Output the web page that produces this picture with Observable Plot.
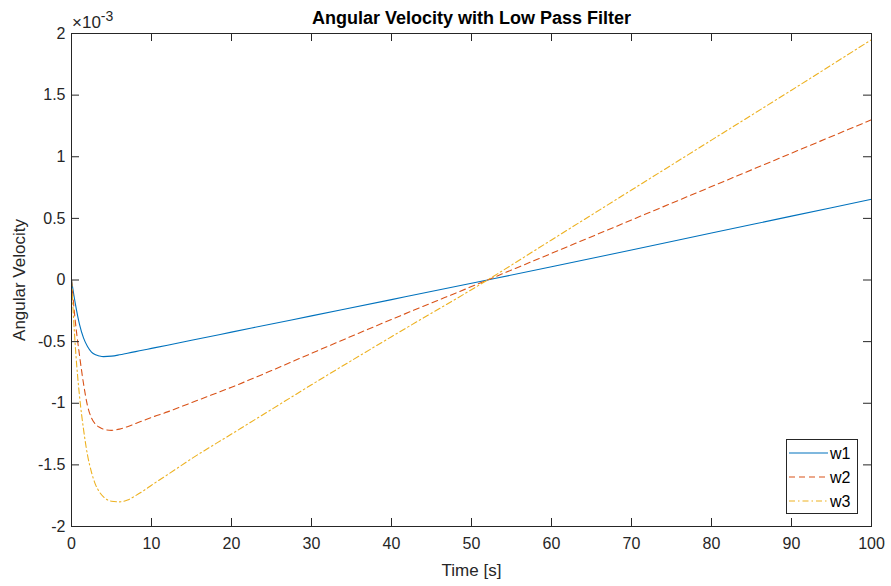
<!DOCTYPE html>
<html>
<head>
<meta charset="utf-8">
<script src="https://cdn.jsdelivr.net/npm/d3@7"></script>
<script src="https://cdn.jsdelivr.net/npm/@observablehq/plot@0.6"></script>
<style>
  html, body { margin: 0; padding: 0; background: #fff; }
  #wrap { position: relative; width: 891px; height: 586px; }
  #legend { position: absolute; left: 786px; top: 439px; }
</style>
</head>
<body>
<div id="wrap"></div>
<script>
// Time samples [s]
const time = [0, 0.5, 1, 1.5, 2, 2.5, 3, 3.5, 4, 5, 6, 7, 8, 9, 10, 12, 15, 20, 25, 30, 40, 52, 60, 70, 80, 90, 100];
// Angular velocity values in units of 1e-3
const w1 = [0, -0.2, -0.36, -0.47, -0.54, -0.585, -0.607, -0.617, -0.622, -0.618, -0.607, -0.594, -0.581, -0.568, -0.555, -0.529, -0.489, -0.423, -0.357, -0.291, -0.159, 0, 0.107, 0.244, 0.381, 0.518, 0.655];
const w2 = [0, -0.35, -0.61, -0.84, -1.02, -1.12, -1.17, -1.195, -1.21, -1.22, -1.21, -1.19, -1.165, -1.14, -1.115, -1.07, -0.995, -0.87, -0.735, -0.595, -0.32, 0, 0.216, 0.487, 0.758, 1.029, 1.30];
const w3 = [0, -0.56, -0.94, -1.21, -1.42, -1.56, -1.66, -1.72, -1.76, -1.795, -1.80, -1.785, -1.75, -1.71, -1.665, -1.58, -1.45, -1.25, -1.05, -0.85, -0.46, 0, 0.325, 0.73, 1.135, 1.54, 1.95];
const seriesNames = ["w1", "w2", "w3"];
const xTicks = [0, 10, 20, 30, 40, 50, 60, 70, 80, 90, 100];
const yTicks = [-2, -1.5, -1, -0.5, 0, 0.5, 1, 1.5, 2];
const titleText = "Angular Velocity with Low Pass Filter";
const xLabel = "Time [s]";
const yLabel = "Angular Velocity";

const colors = ["#0072BD", "#D95319", "#EDB120"];
const dashes = [null, "6,4", "6,3,1.5,3"];
const seriesValues = [w1, w2, w3];

const data = [];
seriesNames.forEach((name, i) => {
  time.forEach((t, j) => data.push({ series: name, t, v: seriesValues[i][j] }));
});

const W = 891, H = 586;
const mL = 71, mT = 33, mR = 20, mB = 60;
const innerW = W - mL - mR, innerH = H - mT - mB;
const axisColor = "#262626";
const tick = 8;
const FONT = "'Liberation Sans', Arial, Helvetica, sans-serif";

const lineMarks = seriesNames.map((name, i) =>
  Plot.line(data.filter(d => d.series === name), {
    x: "t", y: "v", stroke: colors[i], strokeWidth: 1.1,
    strokeDasharray: dashes[i], curve: "monotone-x"
  })
);

const chart = Plot.plot({
  width: W, height: H,
  marginLeft: mL, marginTop: mT, marginRight: mR, marginBottom: mB,
  style: { fontFamily: FONT, fontSize: "16px", color: axisColor, background: "#fff" },
  x: { domain: [0, 100], ticks: xTicks, label: null },
  y: { domain: [-2, 2], ticks: yTicks, label: null },
  marks: [
    ...lineMarks,
    Plot.frame({ stroke: axisColor, strokeWidth: 1 }),
    Plot.ruleX(xTicks, { x: d => d, insetTop: innerH - tick, stroke: axisColor }),
    Plot.ruleX(xTicks, { x: d => d, insetBottom: innerH - tick, stroke: axisColor }),
    Plot.ruleY(yTicks, { y: d => d, insetRight: innerW - tick, stroke: axisColor }),
    Plot.ruleY(yTicks, { y: d => d, insetLeft: innerW - tick, stroke: axisColor }),
    Plot.axisX({ ticks: xTicks, tickSize: 0, tickPadding: 11, tickFormat: d => String(d), label: null, fontSize: 16 }),
    Plot.axisY({ ticks: yTicks, tickSize: 0, tickPadding: 6, tickFormat: d => String(d), label: null, fontSize: 16 }),
    Plot.text([titleText], { frameAnchor: "top", dy: -15.5, text: d => d, fontWeight: "bold", fontSize: 18, fill: "#000", lineAnchor: "middle" }),
    Plot.text([xLabel], { frameAnchor: "bottom", dy: 44, text: d => d, fontSize: 17, fill: axisColor, lineAnchor: "middle" }),
    Plot.text([yLabel], { frameAnchor: "left", dx: -(mL - 19), text: d => d, fontSize: 17, fill: axisColor, rotate: -90, lineAnchor: "middle", textAnchor: "middle" })
  ]
});

document.getElementById("wrap").appendChild(chart);

// exponent label (×10^-3)
const svg = d3.select(chart);
const exp = svg.append("text")
  .attr("x", mL + 1).attr("y", 28)
  .attr("text-anchor", "start")
  .attr("fill", axisColor)
  .style("font-size", "17px")
  .style("font-family", FONT);
exp.append("tspan").text("×10");
exp.append("tspan").attr("dy", -7).style("font-size", "14px").text("-3");

// legend
const lg = d3.select("#wrap").append("svg")
  .attr("id", "legend")
  .attr("width", 72).attr("height", 75)
  .style("font-family", FONT);
lg.append("rect").attr("x", 0.5).attr("y", 0.5).attr("width", 71).attr("height", 74)
  .attr("fill", "#fff").attr("stroke", axisColor).attr("stroke-width", 1);
seriesNames.forEach((name, i) => {
  const y = 14 + i * 24;
  lg.append("line").attr("x1", 3).attr("x2", 42).attr("y1", y).attr("y2", y)
    .attr("stroke", colors[i]).attr("stroke-width", 1.1)
    .attr("stroke-dasharray", dashes[i]);
  lg.append("text").attr("x", 44).attr("y", y + 6).style("font-size", "16px")
    .attr("fill", "#000").text(name);
});
</script>
</body>
</html>
